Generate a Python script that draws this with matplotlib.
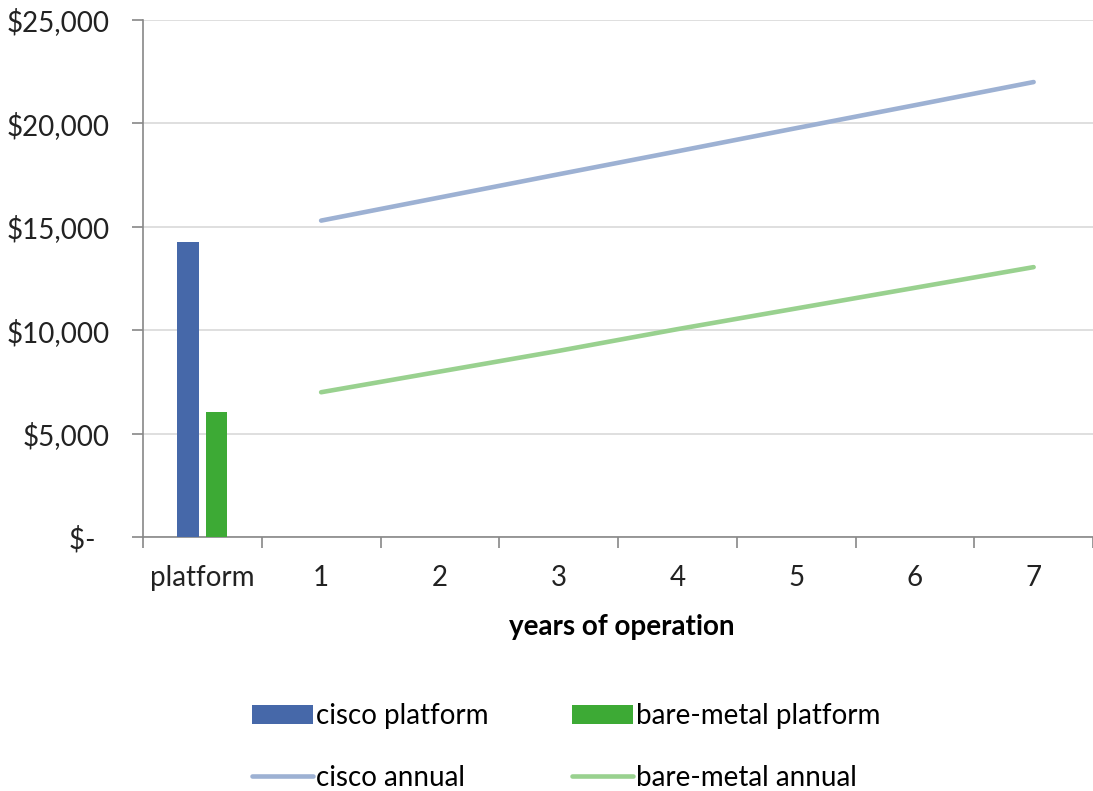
import matplotlib.pyplot as plt
from matplotlib.ticker import FuncFormatter

plt.rcParams['font.family'] = ['Lato', 'DejaVu Sans']

categories = ["platform", "1", "2", "3", "4", "5", "6", "7"]
years = [1, 2, 3, 4, 5, 6, 7]
cisco_platform = 14250
bare_metal_platform = 6050
cisco_annual = [15300, 16420, 17540, 18650, 19770, 20880, 22000]
bare_metal_annual = [7000, 8000, 9000, 10050, 11050, 12050, 13050]

fig = plt.figure(figsize=(10.93, 7.91), dpi=100)
ax = fig.add_axes([143/1093, 1 - 537/791, 1 - 143/1093, (537 - 20)/791])

b1 = ax.bar(-0.117, cisco_platform, width=0.185, color='#4668A9', label='cisco platform', zorder=3)
b2 = ax.bar(0.117, bare_metal_platform, width=0.175, color='#3DAA35', label='bare-metal platform', zorder=3)
l1, = ax.plot(years, cisco_annual, color='#9DB1D3', lw=3.3, solid_capstyle='round', label='cisco annual', zorder=3)
l2, = ax.plot(years, bare_metal_annual, color='#99D18F', lw=3.3, solid_capstyle='round', label='bare-metal annual', zorder=3)

ax.set_xlim(-0.5, -0.5 + (1093 - 143) / 120)
ax.set_ylim(0, 25000)
ax.set_yticks(range(0, 25001, 5000))
ax.yaxis.set_major_formatter(FuncFormatter(lambda v, p: "$-  " if v == 0 else f"${v:,.0f}"))
ax.set_xticks(range(len(categories)))
ax.set_xticklabels(categories)
ax.set_xticks([i + 0.5 for i in range(-1, 8)], minor=True)
ax.tick_params(axis='x', which='major', length=0, pad=20, labelsize=20, colors='#222222')
ax.tick_params(axis='x', which='minor', length=8, color='#888888', width=1.2)
ax.tick_params(axis='y', length=8, color='#888888', width=1.2, labelsize=20, pad=16, labelcolor='#222222')

ax.grid(axis='y', color='#d9d9d9', lw=1.2, zorder=0)
for s in ['top', 'right']:
    ax.spines[s].set_visible(False)
for s in ['left', 'bottom']:
    ax.spines[s].set_color('#888888')
    ax.spines[s].set_linewidth(1.2)

ax.set_xlabel("years of operation", fontsize=20, fontweight='bold')
ax.xaxis.set_label_coords((622 - 143) / (1093 - 143), -0.148)

fig.legend([b1, l1, b2, l2],
           ['cisco platform', 'cisco annual', 'bare-metal platform', 'bare-metal annual'],
           ncol=2, loc='center', bbox_to_anchor=(566/1093, 1 - 747/791),
           frameon=False, fontsize=20, handlelength=2.2, handletextpad=0.1,
           columnspacing=3.0, labelspacing=1.3)

fig.savefig("out.png", dpi=100)
